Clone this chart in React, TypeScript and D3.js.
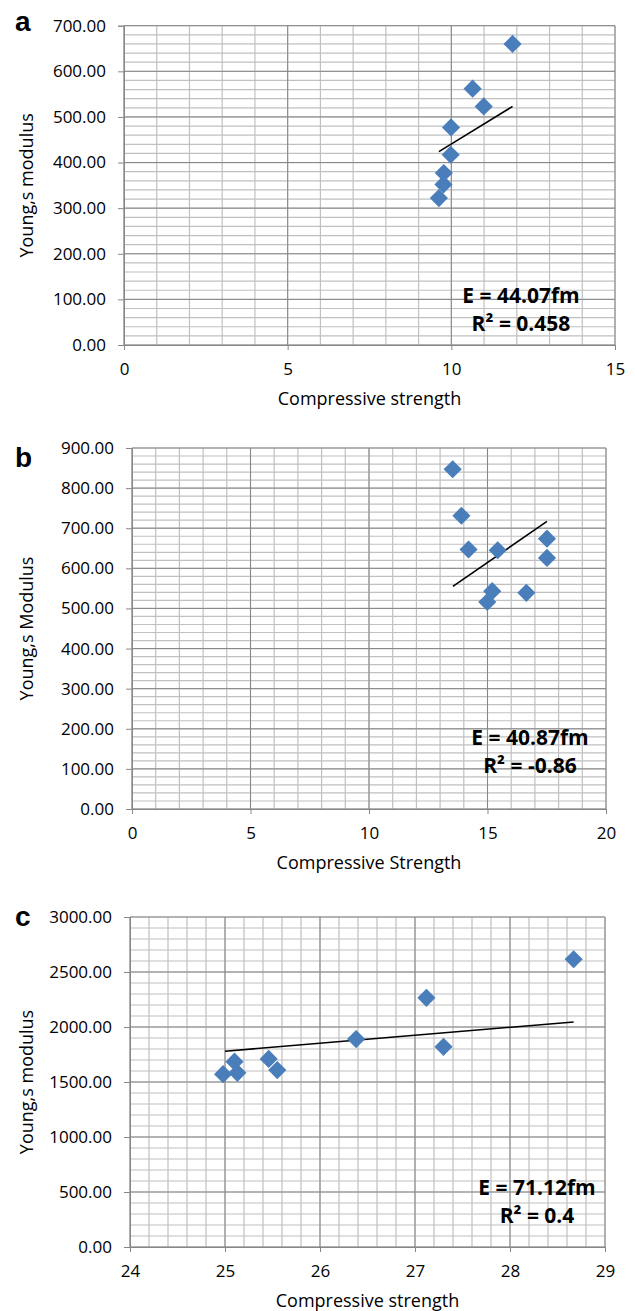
import React, { useEffect, useRef } from "react";
import * as d3 from "d3";

// panel a
const aStrength = [11.87, 10.65, 10.99, 9.99, 9.98, 9.77, 9.76, 9.62];
const aModulus = [660, 562, 523, 477, 417, 377, 352, 322];
const aTrendX = [9.62, 11.87];
const aTrendY = [424, 523];

// panel b
const bStrength = [13.53, 13.9, 14.2, 15.43, 17.51, 17.51, 15.2, 14.99, 16.64];
const bModulus = [847, 731, 647, 645, 674, 626, 543, 516, 539];
const bTrendX = [13.54, 17.51];
const bTrendY = [555, 717];

// panel c
const cStrength = [24.98, 25.1, 25.13, 25.46, 25.55, 26.38, 27.12, 27.3, 28.67];
const cModulus = [1571, 1685, 1583, 1710, 1608, 1890, 2265, 1820, 2616];
const cTrendX = [25.0, 28.67];
const cTrendY = [1780, 2046];

const panels = [
    {
        letter: "a", xs: aStrength, ys: aModulus, tx: aTrendX, ty: aTrendY,
        xDomain: [0, 15], xMajor: 5, xMinor: 1,
        yDomain: [0, 700], yMajor: 100, yMinor: 20,
        xTitle: "Compressive strength", yTitle: "Young,s modulus",
        eq: "E = 44.07fm", r2: "R\u00B2 = 0.458",
        box: { left: 124, right: 615, top: 25.7, bottom: 345 },
        eqPos: [521, 296], letterY: 31
    },
    {
        letter: "b", xs: bStrength, ys: bModulus, tx: bTrendX, ty: bTrendY,
        xDomain: [0, 20], xMajor: 5, xMinor: 1,
        yDomain: [0, 900], yMajor: 100, yMinor: 20,
        xTitle: "Compressive Strength", yTitle: "Young,s Modulus",
        eq: "E = 40.87fm", r2: "R\u00B2 = -0.86",
        box: { left: 132, right: 606, top: 448, bottom: 809 },
        eqPos: [530, 738], letterY: 467
    },
    {
        letter: "c", xs: cStrength, ys: cModulus, tx: cTrendX, ty: cTrendY,
        xDomain: [24, 29], xMajor: 1, xMinor: 0.2,
        yDomain: [0, 3000], yMajor: 500, yMinor: 100,
        xTitle: "Compressive strength", yTitle: "Young,s modulus",
        eq: "E = 71.12fm", r2: "R\u00B2 = 0.4",
        box: { left: 130, right: 605, top: 917, bottom: 1247 },
        eqPos: [537, 1188], letterY: 926
    }
];

const FONT = "'Open Sans', sans-serif";
const MINOR = "#c0c0c0";
const MAJOR = "#878787";

const App = () => {
    const svgRef = useRef(null);

    useEffect(() => {
        const svg = d3.select(svgRef.current);
        svg.selectAll("*").remove();

        panels.forEach(p => {
            const b = p.box;
            const x = d3.scaleLinear().domain(p.xDomain).range([b.left, b.right]);
            const y = d3.scaleLinear().domain(p.yDomain).range([b.bottom, b.top]);
            const g = svg.append("g");

            const steps = (d, s) => d3.range(0, Math.round((d[1] - d[0]) / s) + 1).map(i => d[0] + i * s);
            const xMinor = steps(p.xDomain, p.xMinor);
            const yMinor = steps(p.yDomain, p.yMinor);
            const xMajor = steps(p.xDomain, p.xMajor);
            const yMajor = steps(p.yDomain, p.yMajor);

            // minor grid
            g.append("g").selectAll("line").data(xMinor).enter().append("line")
                .attr("x1", d => x(d)).attr("x2", d => x(d))
                .attr("y1", b.top).attr("y2", b.bottom)
                .attr("stroke", MINOR).attr("stroke-width", 1.2);
            g.append("g").selectAll("line").data(yMinor).enter().append("line")
                .attr("x1", b.left).attr("x2", b.right)
                .attr("y1", d => y(d)).attr("y2", d => y(d))
                .attr("stroke", MINOR).attr("stroke-width", 1.2);

            // major grid
            g.append("g").selectAll("line").data(xMajor).enter().append("line")
                .attr("x1", d => x(d)).attr("x2", d => x(d))
                .attr("y1", b.top).attr("y2", b.bottom)
                .attr("stroke", MAJOR).attr("stroke-width", 1);
            g.append("g").selectAll("line").data(yMajor).enter().append("line")
                .attr("x1", b.left).attr("x2", b.right)
                .attr("y1", d => y(d)).attr("y2", d => y(d))
                .attr("stroke", MAJOR).attr("stroke-width", 1);

            // axes
            const yAxis = d3.axisLeft(y).tickValues(yMajor).tickFormat(d3.format(".2f"))
                .tickSize(6).tickPadding(12);
            const yg = g.append("g").attr("transform", `translate(${b.left},0)`).call(yAxis);
            const xAxis = d3.axisBottom(x).tickValues(xMajor).tickFormat(d3.format("d"))
                .tickSize(5).tickPadding(13);
            const xg = g.append("g").attr("transform", `translate(0,${b.bottom})`).call(xAxis);
            [yg, xg].forEach(a => {
                a.select(".domain").attr("stroke", MAJOR);
                a.selectAll(".tick line").attr("stroke", MAJOR);
                a.selectAll("text").attr("font-family", FONT).attr("font-size", 17).attr("fill", "#000");
            });

            // trend line
            g.append("line")
                .attr("x1", x(p.tx[0])).attr("y1", y(p.ty[0]))
                .attr("x2", x(p.tx[1])).attr("y2", y(p.ty[1]))
                .attr("stroke", "#000").attr("stroke-width", 1.6);

            // diamonds
            const diamond = d3.symbol().type(d3.symbolSquare).size(165);
            g.append("g").selectAll("path").data(p.xs.map((v, i) => [v, p.ys[i]])).enter()
                .append("path")
                .attr("d", diamond)
                .attr("transform", d => `translate(${x(d[0])},${y(d[1])}) rotate(45)`)
                .attr("fill", "#4a7ebb");

            // equation text
            g.append("text").attr("x", p.eqPos[0]).attr("y", p.eqPos[1]).attr("dy", "0.35em")
                .attr("text-anchor", "middle").attr("font-family", FONT).attr("font-weight", "bold")
                .attr("font-size", 21).text(p.eq);
            g.append("text").attr("x", p.eqPos[0]).attr("y", p.eqPos[1] + 28).attr("dy", "0.35em")
                .attr("text-anchor", "middle").attr("font-family", FONT).attr("font-weight", "bold")
                .attr("font-size", 21).text(p.r2);

            // titles
            g.append("text").attr("x", (b.left + b.right) / 2).attr("y", b.bottom + 54).attr("dy", "0.35em")
                .attr("text-anchor", "middle").attr("font-family", FONT).attr("font-size", 18)
                .text(p.xTitle);
            g.append("text")
                .attr("transform", `translate(33,${(b.top + b.bottom) / 2}) rotate(-90)`)
                .attr("text-anchor", "middle").attr("font-family", FONT).attr("font-size", 18)
                .text(p.yTitle);

            // panel letter
            g.append("text").attr("x", 15).attr("y", p.letterY)
                .attr("font-family", "'Liberation Sans', Arial, sans-serif").attr("font-weight", "bold")
                .attr("font-size", 28).text(p.letter);
        });
    }, []);

    return (
        <div style={{ position: "absolute", left: 0, top: 0 }}>
            <svg ref={svgRef} width={635} height={1311} style={{ display: "block", background: "#fff" }} />
        </div>
    );
};

export default App;
